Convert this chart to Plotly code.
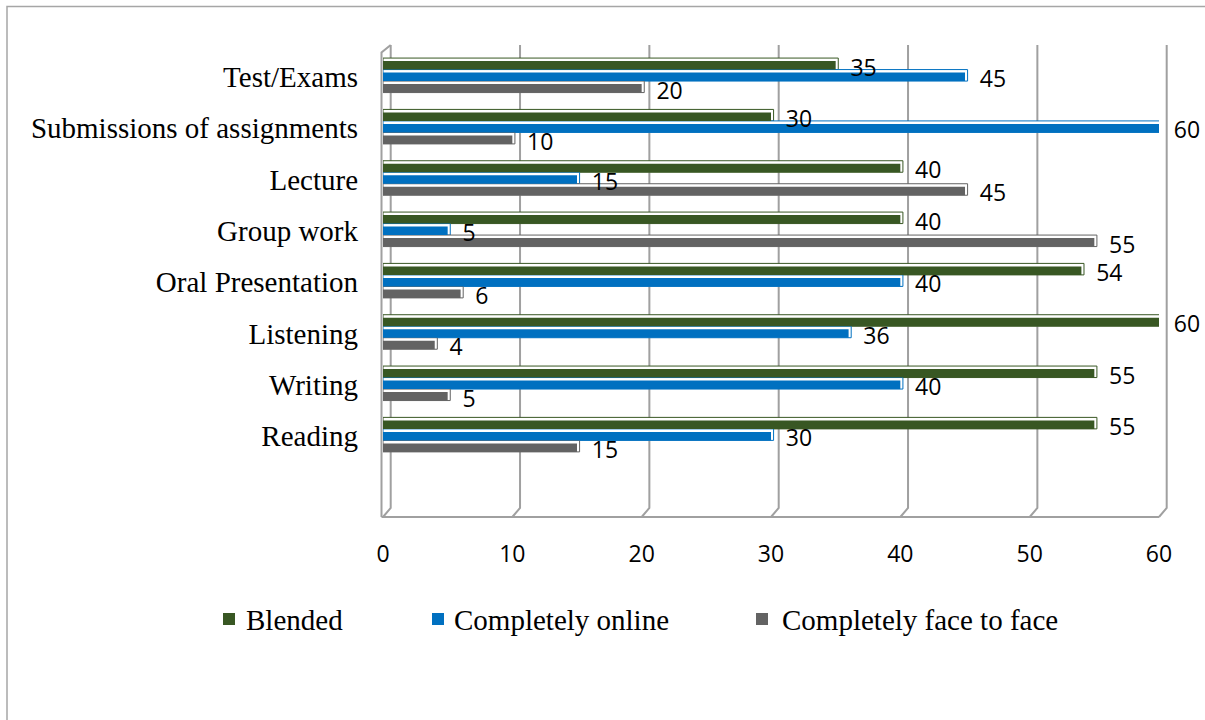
import plotly.graph_objects as go

# ---- data -------------------------------------------------------------
categories = ["Reading", "Writing", "Listening", "Oral Presentation",
              "Group work", "Lecture", "Submissions of assignments", "Test/Exams"]
blended = [55, 55, 60, 54, 40, 40, 30, 35]
online = [30, 40, 36, 40, 5, 15, 60, 45]
face_to_face = [15, 5, 4, 6, 55, 45, 10, 20]
series_names = ["Blended", "Completely online", "Completely face to face"]
series_colors = ["#385723", "#0070C0", "#636363"]
x_ticks = [0, 10, 20, 30, 40, 50, 60]

# ---- geometry (pixels) ------------------------------------------------
FIG_W, FIG_H = 1205, 720
M_L, M_R, M_T, M_B = 383, 46, 45, 212
PLOT_W = FIG_W - M_L - M_R
PLOT_H = FIG_H - M_T - M_B
X_RANGE = [0, 60]
Y_RANGE = [-1.40, 7.62]
PX_PER_Y = PLOT_H / (Y_RANGE[1] - Y_RANGE[0])

DEPTH_X, DEPTH_Y = 7.7, 9          # back wall sits right of / above the front
SLOT_PX = [11.5, 0.0, -11.5]       # vertical shift of each series inside a group
BAR_PX = 8.5                       # bar thickness
FACE_TOP_PX = 3.0                  # visible top face of the 3-D bar
FACE_END = 0.2                     # visible end face, in axis units
LABEL_DY_PX = 4.5

GRID_COLOR = "#a0a0a0"
SERIF = "Liberation Serif, Times New Roman, serif"
SANS = "Open Sans, Noto Sans, sans-serif"


def xp(v):
    return M_L + (v - X_RANGE[0]) / (X_RANGE[1] - X_RANGE[0]) * PLOT_W


def to_paper_x(p):
    return (p - M_L) / PLOT_W


def to_paper_y(p):
    return (M_T + PLOT_H - p) / PLOT_H


series_values = [blended, online, face_to_face]
idx = list(range(len(categories)))
fig = go.Figure()

bar_w = BAR_PX / PX_PER_Y
face_w = (BAR_PX + FACE_TOP_PX) / PX_PER_Y

# outlined "3-D" faces behind each bar
for vals, col, shift in zip(series_values, series_colors, SLOT_PX):
    d = shift / PX_PER_Y
    fig.add_trace(go.Bar(
        orientation="h", y=idx, x=[v + FACE_END for v in vals], base=0,
        offset=d - bar_w / 2, width=face_w,
        marker=dict(color="white", line=dict(color=col, width=1)),
        showlegend=False, hoverinfo="skip", cliponaxis=False))

# solid bars
for vals, col, name, shift in zip(series_values, series_colors, series_names, SLOT_PX):
    d = shift / PX_PER_Y
    fig.add_trace(go.Bar(
        orientation="h", y=idx, x=vals, name=name,
        offset=d - bar_w / 2, width=bar_w,
        marker=dict(color=col, line=dict(width=0)),
        showlegend=False, cliponaxis=False,
        customdata=categories,
        hovertemplate="%{customdata}: %{x}<extra>" + name + "</extra>"))

# value labels
for vals, shift in zip(series_values, SLOT_PX):
    d = (shift - LABEL_DY_PX) / PX_PER_Y
    fig.add_trace(go.Scatter(
        x=vals, y=[i + d for i in idx], mode="markers+text",
        text=[str(v) for v in vals], textposition="middle right",
        textfont=dict(family=SANS, size=23, color="black"),
        marker=dict(size=22, color="rgba(0,0,0,0)"),
        showlegend=False, hoverinfo="skip", cliponaxis=False))

shapes = []
# outer chart frame
shapes.append(dict(type="rect", xref="paper", yref="paper",
                   x0=to_paper_x(7), x1=to_paper_x(FIG_W + 10),
                   y0=to_paper_y(6.5), y1=to_paper_y(FIG_H + 10),
                   line=dict(color="#a6a6a6", width=1.5), layer="below"))

# back-wall gridlines folding down onto the floor
front_y = M_T + PLOT_H + DEPTH_Y
for v in x_ticks:
    bx = xp(v) + DEPTH_X
    fx = xp(v)
    path = "M {},{} L {},{} L {},{}".format(
        to_paper_x(bx), to_paper_y(M_T),
        to_paper_x(bx), to_paper_y(M_T + PLOT_H),
        to_paper_x(fx), to_paper_y(front_y))
    shapes.append(dict(type="path", xref="paper", yref="paper", path=path,
                       line=dict(color=GRID_COLOR, width=2), layer="below"))

# floor front edge
shapes.append(dict(type="line", xref="paper", yref="paper",
                   x0=to_paper_x(xp(X_RANGE[0]) - 1.5), x1=to_paper_x(xp(X_RANGE[1])),
                   y0=to_paper_y(front_y), y1=to_paper_y(front_y),
                   line=dict(color=GRID_COLOR, width=2), layer="below"))

# left side wall front edge
lx = xp(X_RANGE[0]) - 1.5
path = "M {},{} L {},{} L {},{}".format(
    to_paper_x(lx), to_paper_y(front_y),
    to_paper_x(lx), to_paper_y(M_T + DEPTH_Y - 1.5),
    to_paper_x(xp(X_RANGE[0]) + DEPTH_X), to_paper_y(M_T))
shapes.append(dict(type="path", xref="paper", yref="paper", path=path,
                   line=dict(color=GRID_COLOR, width=2), layer="below"))

# legend
legend_sq = [(223, 235), (432, 444), (756, 768)]
legend_tx = [244, 452, 780]
LEG_Y = 619
annotations = []
for (sx0, sx1), tx, col, name in zip(legend_sq, legend_tx, series_colors, series_names):
    shapes.append(dict(type="rect", xref="paper", yref="paper",
                       x0=to_paper_x(sx0), x1=to_paper_x(sx1),
                       y0=to_paper_y(LEG_Y - 6), y1=to_paper_y(LEG_Y + 6),
                       fillcolor=col, line=dict(width=0)))
    annotations.append(dict(xref="paper", yref="paper", x=to_paper_x(tx),
                            y=to_paper_y(LEG_Y + 1), xanchor="left", yanchor="middle",
                            text=name, showarrow=False,
                            font=dict(family=SERIF, size=29, color="black")))

fig.update_layout(
    width=FIG_W, height=FIG_H,
    margin=dict(l=M_L, r=M_R, t=M_T, b=M_B, pad=0),
    paper_bgcolor="white", plot_bgcolor="rgba(0,0,0,0)",
    barmode="overlay",
    showlegend=False,
    shapes=shapes,
    annotations=annotations,
    xaxis=dict(range=X_RANGE, tickvals=x_ticks, ticks="", showgrid=False,
               zeroline=False, showline=False, fixedrange=True,
               tickfont=dict(family=SANS, size=23, color="black"),
               ticklabelstandoff=30),
    yaxis=dict(range=Y_RANGE, tickvals=idx, ticktext=categories, ticks="",
               showgrid=False, zeroline=False, showline=False, fixedrange=True,
               tickfont=dict(family=SERIF, size=29, color="black"),
               ticklabelstandoff=24),
)

fig.write_html("out.html")
